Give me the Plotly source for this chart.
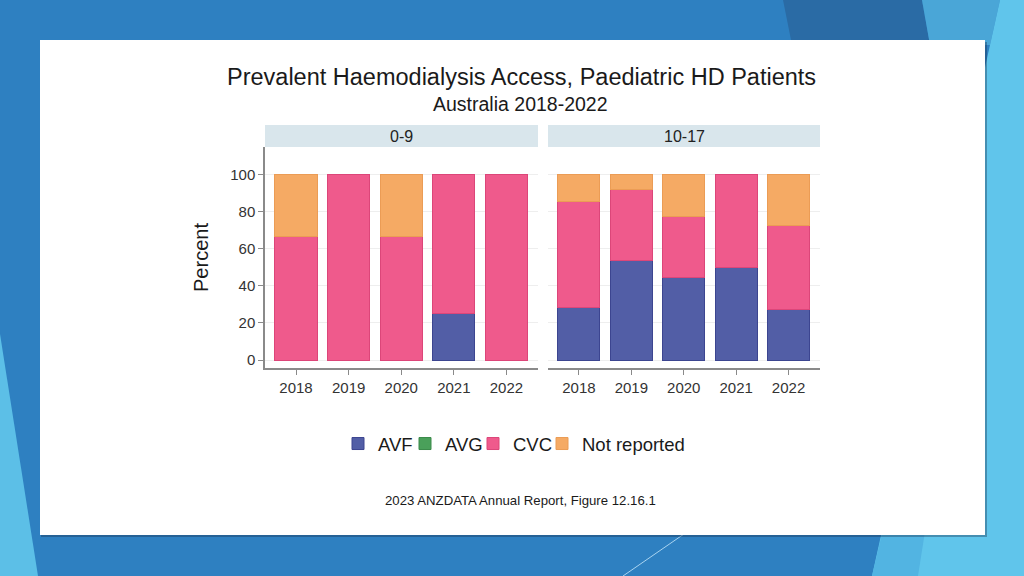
import plotly.graph_objects as go

# ---------------- data ----------------
years = ["2018", "2019", "2020", "2021", "2022"]
groups = ["0-9", "10-17"]
categories = ["AVF", "AVG", "CVC", "Not reported"]

n_0_9 = [3, 2, 3, 4, 1]
n_10_17 = [14, 13, 9, 12, 11]

avf_0_9 = [0, 0, 0, 25.0, 0]
avg_0_9 = [0, 0, 0, 0, 0]
cvc_0_9 = [66.7, 100, 66.7, 75.0, 100]
nr_0_9 = [33.3, 0, 33.3, 0, 0]

avf_10_17 = [28.6, 53.8, 44.4, 50.0, 27.3]
avg_10_17 = [0, 0, 0, 0, 0]
cvc_10_17 = [57.1, 38.5, 33.3, 50.0, 45.5]
nr_10_17 = [14.3, 7.7, 22.2, 0, 27.3]

y_ticks = [0, 20, 40, 60, 80, 100]

# ---------------- style ----------------
W, H = 1024, 576
FONT = "Liberation Sans, Arial, sans-serif"
fills = {"AVF": "#525ea6", "AVG": "#4aa05a", "CVC": "#ef5a8c", "Not reported": "#f5aa64"}
edges = {"AVF": "#3c4590", "AVG": "#3a8a4a", "CVC": "#dc4679", "Not reported": "#eb9c55"}
legend_ids = {"AVF": "legend", "AVG": "legend2", "CVC": "legend3", "Not reported": "legend4"}
legend_text_x = {"AVF": 380, "AVG": 447, "CVC": 515, "Not reported": 584}


def px(x):
    return x / W


def py(y):
    return 1 - y / H


def poly(points):
    return "M " + " L ".join(f"{px(x):.5f},{py(y):.5f}" for x, y in points) + " Z"


fig = go.Figure()

panel_data = [
    (avf_0_9, avg_0_9, cvc_0_9, nr_0_9, "x", "y", True),
    (avf_10_17, avg_10_17, cvc_10_17, nr_10_17, "x2", "y2", False),
]
for avf, avg, cvc, nr, xa, ya, showleg in panel_data:
    for cat, vals in zip(categories, [avf, avg, cvc, nr]):
        fig.add_trace(go.Bar(
            x=years, y=[v if v > 0 else None for v in vals], name=cat,
            xaxis=xa, yaxis=ya, legendgroup=cat, showlegend=showleg,
            legend=legend_ids[cat],
            marker=dict(color=fills[cat], line=dict(color=edges[cat], width=1)),
            hovertemplate=cat + " %{x}: %{y:.1f}%<extra></extra>",
        ))

shapes = []
# background decorations
shapes.append(dict(type="path", path=poly([(783, 0), (922, 0), (930, 45), (792, 45)]),
                   fillcolor="#2a6ba5", line=dict(width=0), xref="paper", yref="paper", layer="below"))
shapes.append(dict(type="path", path=poly([(922, 0), (1000, 0), (990, 45), (930, 45)]),
                   fillcolor="#4aa6d7", line=dict(width=0), xref="paper", yref="paper", layer="below"))
shapes.append(dict(type="path", path=poly([(1000, 0), (1024, 0), (1024, 576), (872, 576)]),
                   fillcolor="#60c5eb", line=dict(width=0), xref="paper", yref="paper", layer="below"))
shapes.append(dict(type="path", path=poly([(890, 500), (930, 500), (918, 576), (872, 576)]),
                   fillcolor="#52b4e2", line=dict(width=0), xref="paper", yref="paper", layer="below"))
shapes.append(dict(type="path", path=poly([(0, 334), (38, 576), (0, 576)]),
                   fillcolor="#5cbfe7", line=dict(width=0), xref="paper", yref="paper", layer="below"))
shapes.append(dict(type="line", x0=px(623), y0=py(576), x1=px(684), y1=py(534),
                   line=dict(color="#a9d3f0", width=1), xref="paper", yref="paper", layer="below"))
# panel shadow + panel
shapes.append(dict(type="rect", x0=px(41), y0=py(42), x1=px(987), y1=py(537),
                   fillcolor="rgba(20,40,70,0.35)", line=dict(width=0), xref="paper", yref="paper", layer="below"))
shapes.append(dict(type="rect", x0=px(40), y0=py(40), x1=px(985), y1=py(535),
                   fillcolor="white", line=dict(width=0), xref="paper", yref="paper", layer="below"))
# strip headers
for x0, x1 in [(265, 538), (548, 820)]:
    shapes.append(dict(type="rect", x0=px(x0), y0=py(147), x1=px(x1), y1=py(125),
                       fillcolor="#d9e6ec", line=dict(width=0), xref="paper", yref="paper", layer="below"))

annotations = []


def label(text, x, y, size, color="#1a1a1a", **kw):
    annotations.append(dict(text=text, x=x, y=y, showarrow=False, xanchor="center", yanchor="middle",
                            font=dict(family=FONT, size=size, color=color), **kw))


for g, (x0, x1) in zip(groups, [(265, 538), (548, 820)]):
    label(g, px((x0 + x1) / 2), py(136), 16, "#222", xref="paper", yref="paper")
for ns, xa, ya in [(n_0_9, "x", "y"), (n_10_17, "x2", "y2")]:
    for yr, n in zip(years, ns):
        label(f"n={n}", yr, 109.4, 10.5, "#333", xref=xa, yref=ya)
label("Prevalent Haemodialysis Access, Paediatric HD Patients", px(521), py(77), 23.5,
      xref="paper", yref="paper")
label("Australia 2018-2022", px(520), py(104), 19.5, xref="paper", yref="paper")
label("2023 ANZDATA Annual Report, Figure 12.16.1", px(520), py(500), 13.2, xref="paper", yref="paper")

axis_common = dict(
    type="category", range=[-0.59, 4.6], showline=True, linecolor="#8a8a8a", linewidth=1.5,
    ticks="outside", ticklen=5, tickcolor="#8a8a8a", showgrid=False, zeroline=False,
    tickfont=dict(family=FONT, size=15, color="#333"), fixedrange=True,
)

legend_common = dict(orientation="h", xanchor="left", yanchor="middle", y=py(444),
                     font=dict(family=FONT, size=18.5, color="#1a1a1a"), bgcolor="rgba(0,0,0,0)",
                     borderwidth=0, itemclick=False, itemdoubleclick=False)
legend_layout = {}
for cat in categories:
    legend_layout[legend_ids[cat]] = dict(x=px(legend_text_x[cat] - 42), **legend_common)

fig.update_layout(
    width=W, height=H, margin=dict(l=0, r=0, t=0, b=0),
    paper_bgcolor="#2e80c1", plot_bgcolor="rgba(0,0,0,0)",
    barmode="stack", bargap=0.2,
    font=dict(family=FONT, color="#333"),
    xaxis=dict(domain=[px(265), px(538)], anchor="y", **axis_common),
    xaxis2=dict(domain=[px(548), px(820)], anchor="y2", **axis_common),
    yaxis=dict(domain=[py(368), py(147)], range=[-4.3, 115], anchor="x",
               tickvals=y_ticks, ticks="outside", ticklen=5, tickcolor="#8a8a8a",
               showline=True, linecolor="#8a8a8a", linewidth=1.5,
               gridcolor="#eeeeee", gridwidth=1, zeroline=False,
               tickfont=dict(family=FONT, size=15, color="#333"),
               title=dict(text="Percent", standoff=16, font=dict(family=FONT, size=20, color="#1a1a1a"))),
    yaxis2=dict(domain=[py(368), py(147)], range=[-4.3, 115], anchor="x2", matches="y",
                tickvals=y_ticks, showticklabels=False, ticks="", showline=False,
                gridcolor="#eeeeee", gridwidth=1, zeroline=False),
    shapes=shapes, annotations=annotations,
    **legend_layout,
)

fig.write_html("out.html", config={"displayModeBar": False},
               post_script="document.body.style.margin='0';document.body.style.overflow='hidden';")
